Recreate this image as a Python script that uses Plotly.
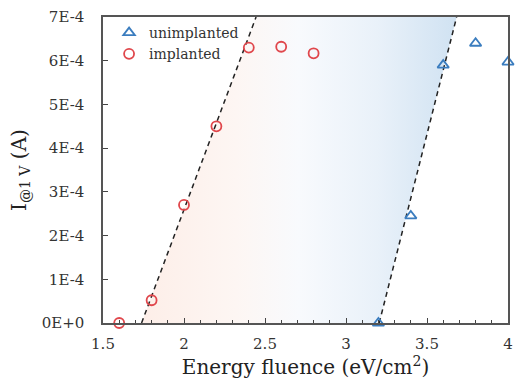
import plotly.graph_objects as go

# data
imp_x = [1.6, 1.8, 2.0, 2.2, 2.4, 2.6, 2.8]
imp_y = [0.0, 5.2e-5, 2.7e-4, 4.5e-4, 6.3e-4, 6.32e-4, 6.17e-4]
unimp_x = [3.2, 3.4, 3.6, 3.8, 4.0]
unimp_y = [0.0, 2.45e-4, 5.9e-4, 6.4e-4, 5.97e-4]
# guide lines (fits)
left_line_x = [1.738, 2.445]
right_line_x = [3.205, 3.683]
line_y = [0.0, 7e-4]
yticks = [0, 1e-4, 2e-4, 3e-4, 4e-4, 5e-4, 6e-4, 7e-4]
ytick_text = ["0E+0", "1E-4", "2E-4", "3E-4", "4E-4", "5E-4", "6E-4", "7E-4"]
xticks = [1.5, 2, 2.5, 3, 3.5, 4]
xtick_text = ["1.5", "2", "2.5", "3", "3.5", "4"]

FONT = "DejaVu Serif"
RED = "#e0474c"
BLUE = "#3b7dbf"

fig = go.Figure()

# shaded band between the two guide lines
band_x = [left_line_x[0], left_line_x[1], right_line_x[1], right_line_x[0], left_line_x[0]]
band_y = [line_y[0], line_y[1], line_y[1], line_y[0], line_y[0]]
fig.add_trace(go.Scatter(
    x=band_x, y=band_y, mode="none", fill="toself",
    fillgradient=dict(type="horizontal",
                      colorscale=[[0, "#fdeee8"], [0.3, "#fdf6f3"], [0.5, "#f8fafd"],
                                  [0.75, "#e9f1f9"], [1, "#d0e2f2"]]),
    showlegend=False, hoverinfo="skip"))

for lx in (left_line_x, right_line_x):
    fig.add_trace(go.Scatter(x=lx, y=line_y, mode="lines",
                             line=dict(color="#222222", width=1.5, dash="5px,4px"),
                             showlegend=False, hoverinfo="skip"))

fig.add_trace(go.Scatter(
    x=unimp_x, y=unimp_y, mode="markers", name="unimplanted",
    marker=dict(symbol="triangle-up-open", size=10, color=BLUE, line=dict(width=1.8, color=BLUE)),
    cliponaxis=False))
fig.add_trace(go.Scatter(
    x=imp_x, y=imp_y, mode="markers", name="implanted",
    marker=dict(symbol="circle-open", size=10, color=RED, line=dict(width=1.8, color=RED)),
    cliponaxis=False))

fig.update_layout(
    width=521, height=388,
    margin=dict(l=103, r=8, t=15, b=65),
    paper_bgcolor="white", plot_bgcolor="white",
    font=dict(family=FONT, size=14, color="#333333"),
    showlegend=True,
    legend=dict(x=0.015, y=1.0, xanchor="left", yanchor="top",
                bgcolor="rgba(0,0,0,0)", font=dict(family=FONT, size=14, color="#333333"),
                itemwidth=30, tracegroupgap=0),
    xaxis=dict(range=[1.5, 4], tickvals=xticks, ticktext=xtick_text,
               ticks="inside", ticklen=5, tickcolor="#444444",
               minor=dict(dtick=0.1, tick0=1.5, ticks="inside", ticklen=3, tickcolor="#444444"),
               showline=True, linecolor="#555555", linewidth=1.5, mirror=True,
               showgrid=False, zeroline=False, ticklabelstandoff=6,
               tickfont=dict(family=FONT, size=15, color="#333333"),
               title=dict(text="Energy fluence (eV/cm<sup>2</sup>)", standoff=8,
                          font=dict(family=FONT, size=20, color="#222222"))),
    yaxis=dict(range=[0, 7e-4], tickvals=yticks, ticktext=ytick_text,
               ticks="inside", ticklen=5, tickcolor="#444444",
               showline=True, linecolor="#555555", linewidth=1.5, mirror=True,
               showgrid=False, zeroline=False, ticklabelstandoff=14,
               tickfont=dict(family=FONT, size=15, color="#333333"),
               title=dict(text="I<sub>@1 V</sub> (A)", standoff=10,
                          font=dict(family=FONT, size=20, color="#222222"))),
)

fig.write_html("out.html")
